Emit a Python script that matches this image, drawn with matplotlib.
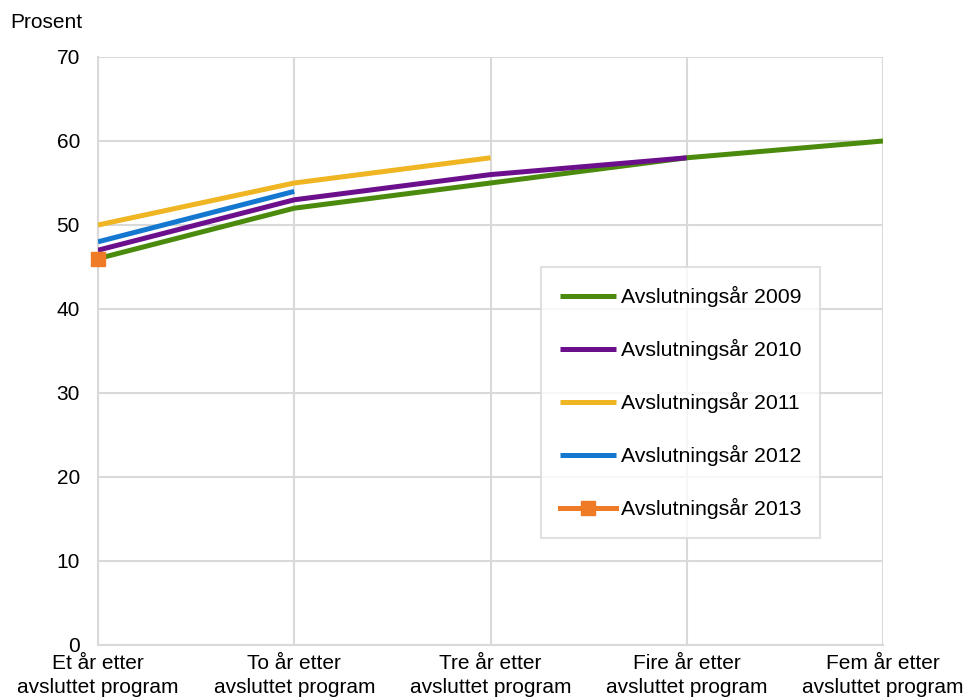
import numpy as np
import matplotlib.pyplot as plt

plt.rcParams['font.family'] = ['Liberation Sans', 'DejaVu Sans']

kategorier = ['Et år etter\navsluttet program', 'To år etter\navsluttet program',
              'Tre år etter\navsluttet program', 'Fire år etter\navsluttet program',
              'Fem år etter\navsluttet program']

aar_2009 = [46, 52, 55, 58, 60]
aar_2010 = [47, 53, 56, 58]
aar_2011 = [50, 55, 58]
aar_2012 = [48, 54]
aar_2013 = [46]

serier = [
    ('Avslutningsår 2009', aar_2009, '#4a8a0c'),
    ('Avslutningsår 2010', aar_2010, '#6c0f8c'),
    ('Avslutningsår 2011', aar_2011, '#efb522'),
    ('Avslutningsår 2012', aar_2012, '#1578d0'),
]

fig = plt.figure(figsize=(9.68, 6.97), dpi=100)
ax = fig.add_axes([98/968, 1-645/697, (883-98)/968, (645-57)/697])

x = np.arange(len(kategorier))
for navn, verdier, farge in serier:
    ax.plot(x[:len(verdier)], verdier, color=farge, lw=3.6, label=navn,
            solid_capstyle='butt', zorder=3)
ax.plot(x[:len(aar_2013)], aar_2013, color='#ef7b27', lw=3.6, marker='s',
        markersize=10, label='Avslutningsår 2013', zorder=4, clip_on=False)

ax.set_xlim(0, 4)
ax.set_ylim(0, 70)
ax.set_yticks(range(0, 71, 10))
ax.set_xticks(x)
ax.set_xticklabels(kategorier, linespacing=1.3)
ax.tick_params(axis='both', length=0, labelsize=15)
ax.tick_params(axis='y', pad=13)
ax.tick_params(axis='x', pad=6.5)

ax.grid(True, color='#d9d9d9', lw=1.5)
ax.set_axisbelow(True)
for s in ['top', 'right']:
    ax.spines[s].set_visible(False)
for s in ['left', 'bottom']:
    ax.spines[s].set_color('#d9d9d9')
    ax.spines[s].set_linewidth(1.5)

fig.text(10/968, 1-22/697, 'Prosent', fontsize=15, va='center', ha='left')

leg = ax.legend(loc='upper left', bbox_to_anchor=(541/968, 1-267/697),
                bbox_transform=fig.transFigure, fontsize=15.3, frameon=True,
                fancybox=False, edgecolor='#d9d9d9', handlelength=2.65,
                handletextpad=0.2, labelspacing=1.5, borderpad=0.9,
                borderaxespad=0)
leg.get_frame().set_linewidth(1.5)

fig.savefig('out.png', dpi=100)
